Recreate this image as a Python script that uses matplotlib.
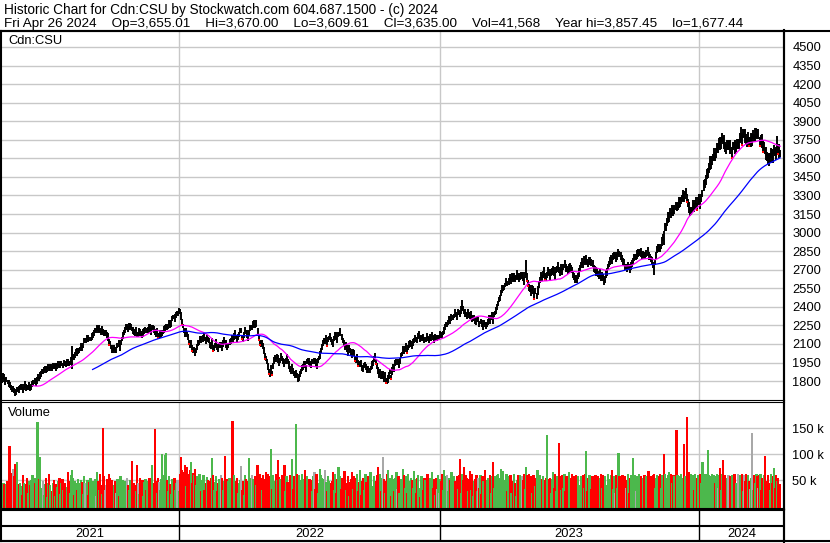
#!/usr/bin/env python
# -*- coding: utf-8 -*-

import numpy as np
import pandas as pd
import matplotlib
matplotlib.use('Agg')
import matplotlib.pyplot as plt
from matplotlib.lines import Line2D

plt.rcParams['font.family'] = ['Liberation Sans', 'DejaVu Sans']

# header values
symbol = 'Cdn:CSU'
last_date = 'Fri Apr 26 2024'
op, hi, lo, cl, last_vol = 3655.01, 3670.00, 3609.61, 3635.00, 41568
year_hi, year_lo = 3857.45, 1677.44

years = ['2021', '2022', '2023', '2024']
year_start = [0, 173, 424, 674]      # bar index where each year begins

# daily bars (one value per trading day)
highs = [
    1845,1860,1830,1865,1855,1825,1835,1810,1810,1790,
    1770,1760,1760,1745,1735,1725,1750,1755,1760,1770,
    1780,1775,1750,1775,1800,1775,1765,1765,1790,1765,
    1775,1800,1805,1825,1820,1830,1855,1835,1875,1880,
    1900,1900,1910,1925,1925,1925,1940,1915,1940,1940,
    1925,1945,1940,1945,1945,1950,1965,1940,1965,1965,
    1950,1970,1965,1960,1980,1975,1965,1965,1995,2080,
    2020,2015,2035,2060,2065,2070,2070,2075,2105,2090,
    2110,2150,2150,2150,2175,2170,2160,2160,2190,2195,
    2210,2230,2230,2250,2245,2250,2230,2210,2245,2220,
    2210,2210,2210,2195,2185,2140,2120,2095,2090,2070,
    2090,2075,2075,2110,2135,2100,2135,2155,2200,2215,
    2235,2260,2260,2245,2270,2270,2265,2240,2240,2220,
    2210,2235,2200,2200,2230,2220,2205,2185,2220,2225,
    2235,2230,2235,2260,2260,2230,2255,2255,2245,2220,
    2200,2225,2185,2185,2210,2210,2205,2215,2245,2250,
    2260,2255,2265,2290,2290,2290,2325,2335,2340,2355,
    2370,2370,2390,2385,2355,2300,2265,2225,2220,2230,
    2200,2180,2135,2115,2135,2090,2065,2075,2060,2070,
    2100,2130,2135,2165,2165,2170,2185,2160,2160,2170,
    2160,2150,2115,2105,2145,2090,2085,2105,2140,2100,
    2080,2110,2115,2115,2105,2130,2155,2135,2130,2100,
    2110,2140,2145,2175,2175,2190,2215,2175,2170,2180,
    2200,2230,2225,2175,2175,2200,2235,2215,2210,2170,
    2210,2250,2255,2255,2285,2290,2265,2295,2230,2170,
    2130,2120,2135,2105,2075,2030,2005,1975,1950,1900,
    1880,1930,1885,1945,1995,2010,1995,2015,2010,1970,
    1990,2030,2005,1985,1975,1990,2015,1975,1960,1920,
    1900,1940,1905,1885,1885,1890,1865,1835,1860,1880,
    1900,1930,1935,1965,1965,1930,1975,1985,1990,1960,
    1950,1980,1985,1985,1975,1950,1985,2005,2040,2070,
    2100,2130,2145,2145,2175,2130,2155,2165,2190,2160,
    2140,2120,2165,2195,2195,2160,2195,2200,2225,2180,
    2150,2130,2095,2115,2095,2060,2095,2065,2060,2030,
    2060,2050,2005,1995,2015,1970,1955,1965,1970,1930,
    1920,1950,1955,1935,1925,1920,1905,1925,1960,1970,
    2000,2030,1975,1945,1915,1880,1895,1855,1880,1880,
    1840,1870,1825,1825,1845,1870,1895,1845,1910,1940,
    1920,1970,1975,1975,1965,1990,2025,2035,2080,2060,
    2080,2110,2065,2095,2125,2130,2125,2095,2140,2150,
    2170,2160,2155,2185,2205,2170,2165,2175,2180,2155,
    2160,2190,2165,2155,2180,2180,2195,2165,2170,2180,
    2170,2170,2175,2175,2205,2200,2185,2205,2240,2260,
    2280,2280,2295,2325,2325,2340,2335,2345,2380,2360,
    2340,2380,2375,2365,2405,2455,2405,2375,2380,2360,
    2350,2380,2355,2345,2365,2330,2325,2335,2320,2300,
    2320,2320,2285,2305,2295,2270,2295,2275,2280,2280,
    2300,2330,2305,2335,2355,2320,2355,2365,2400,2420,
    2450,2480,2495,2535,2575,2580,2575,2595,2630,2610,
    2635,2665,2640,2670,2670,2675,2650,2660,2695,2675,
    2655,2675,2680,2680,2680,2645,2680,2780,2675,2615,
    2585,2575,2540,2580,2570,2525,2550,2510,2565,2605,
    2645,2685,2660,2690,2720,2675,2660,2680,2725,2705,
    2675,2705,2710,2730,2720,2685,2720,2730,2765,2725,
    2705,2745,2710,2750,2780,2745,2730,2710,2745,2755,
    2735,2725,2690,2670,2660,2655,2640,2670,2715,2735,
    2765,2795,2770,2810,2810,2815,2790,2770,2805,2805,
    2785,2775,2740,2730,2720,2715,2690,2670,2705,2665,
    2685,2665,2630,2650,2700,2715,2750,2770,2805,2815,
    2805,2835,2840,2840,2830,2845,2870,2850,2845,2815,
    2795,2785,2750,2750,2750,2765,2750,2720,2765,2775,
    2795,2825,2830,2830,2860,2865,2860,2870,2875,2845,
    2855,2845,2840,2860,2880,2845,2830,2810,2805,2765,
    2740,2790,2840,2890,2910,2905,2890,2910,2965,2990,
    3010,3075,3080,3115,3170,3170,3195,3170,3225,3200,
    3220,3245,3240,3245,3290,3290,3285,3300,3345,3320,
    3340,3360,3315,3275,3250,3210,3205,3210,3265,3240,
    3260,3285,3240,3290,3310,3270,3310,3345,3425,3430,
    3465,3515,3525,3565,3615,3615,3615,3635,3685,3655,
    3685,3725,3725,3765,3775,3775,3805,3775,3785,3735,
    3715,3745,3745,3745,3745,3695,3735,3735,3745,3735,
    3755,3755,3755,3805,3857,3805,3835,3825,3835,3795,
    3775,3815,3775,3775,3805,3800,3825,3795,3845,3845,
    3835,3835,3775,3785,3795,3745,3735,3695,3695,3655,
    3635,3645,3645,3685,3675,3665,3705,3675,3695,3780,
    3705,3715,3670,
]

lows = [
    1800,1815,1785,1820,1795,1770,1795,1775,1750,1745,
    1725,1715,1715,1700,1678,1685,1710,1720,1700,1725,
    1735,1730,1705,1730,1740,1720,1725,1730,1730,1720,
    1730,1755,1760,1780,1760,1775,1815,1800,1815,1835,
    1855,1855,1865,1880,1865,1870,1900,1880,1880,1895,
    1880,1900,1895,1900,1885,1895,1925,1905,1905,1920,
    1905,1925,1920,1915,1920,1920,1925,1930,1935,1900,
    1975,1970,1990,2015,2005,2015,2030,2040,2045,2045,
    2065,2105,2105,2105,2115,2115,2120,2125,2130,2150,
    2165,2185,2185,2205,2185,2195,2190,2175,2185,2175,
    2165,2165,2165,2150,2125,2085,2080,2060,2030,2025,
    2045,2030,2030,2065,2075,2045,2095,2120,2140,2170,
    2190,2215,2215,2200,2210,2215,2225,2205,2180,2175,
    2165,2190,2155,2155,2170,2165,2165,2150,2160,2180,
    2190,2185,2190,2215,2200,2175,2215,2220,2185,2175,
    2155,2180,2140,2140,2150,2155,2165,2180,2185,2205,
    2215,2210,2220,2245,2230,2235,2285,2300,2280,2310,
    2325,2325,2340,2340,2295,2245,2225,2190,2160,2185,
    2155,2135,2090,2070,2075,2035,2025,2040,2000,2025,
    2055,2085,2090,2120,2105,2115,2145,2125,2100,2125,
    2115,2105,2070,2060,2085,2035,2045,2070,2080,2055,
    2035,2065,2070,2070,2045,2075,2115,2100,2070,2055,
    2065,2095,2100,2130,2115,2135,2175,2140,2110,2135,
    2155,2185,2190,2130,2115,2145,2195,2180,2150,2125,
    2165,2205,2210,2210,2225,2235,2225,2240,2170,2125,
    2085,2075,2090,2060,2015,1975,1965,1940,1890,1855,
    1835,1885,1840,1900,1935,1955,1955,1980,1950,1925,
    1945,1985,1960,1940,1915,1935,1975,1940,1900,1875,
    1855,1895,1860,1840,1825,1835,1825,1795,1800,1835,
    1855,1885,1890,1920,1905,1875,1935,1950,1930,1915,
    1905,1935,1940,1940,1915,1895,1945,1970,1980,2025,
    2055,2085,2100,2100,2115,2075,2115,2130,2130,2115,
    2095,2075,2120,2150,2135,2105,2155,2165,2165,2135,
    2105,2085,2050,2070,2035,2005,2055,2030,2000,1985,
    2015,2005,1960,1950,1955,1915,1915,1930,1910,1885,
    1875,1905,1910,1890,1865,1865,1865,1890,1900,1925,
    1955,1985,1930,1900,1855,1825,1855,1820,1820,1820,
    1795,1825,1780,1778,1785,1815,1855,1810,1850,1895,
    1875,1925,1930,1930,1905,1935,1985,2000,2020,2015,
    2035,2065,2020,2050,2065,2075,2085,2060,2080,2105,
    2125,2115,2110,2140,2145,2115,2125,2140,2120,2110,
    2115,2145,2120,2110,2120,2125,2155,2130,2110,2135,
    2125,2125,2130,2130,2145,2145,2145,2170,2180,2215,
    2235,2235,2250,2280,2265,2285,2295,2310,2320,2315,
    2295,2335,2330,2320,2345,2375,2365,2340,2320,2315,
    2305,2335,2310,2300,2305,2275,2285,2300,2260,2255,
    2275,2275,2240,2260,2235,2215,2255,2240,2220,2235,
    2255,2285,2260,2290,2295,2265,2315,2330,2340,2375,
    2405,2435,2450,2490,2515,2525,2535,2560,2570,2565,
    2580,2610,2585,2615,2600,2610,2600,2615,2625,2620,
    2600,2620,2625,2625,2610,2580,2630,2660,2605,2560,
    2530,2520,2485,2525,2500,2460,2500,2465,2495,2550,
    2590,2630,2605,2635,2650,2610,2610,2635,2655,2650,
    2620,2650,2655,2675,2650,2620,2670,2685,2695,2670,
    2650,2690,2655,2695,2710,2680,2680,2665,2675,2700,
    2680,2670,2635,2615,2590,2590,2590,2625,2645,2680,
    2710,2740,2715,2755,2740,2750,2740,2725,2735,2750,
    2730,2720,2685,2675,2650,2650,2640,2625,2635,2610,
    2630,2610,2575,2595,2630,2650,2700,2725,2735,2760,
    2750,2780,2785,2785,2760,2780,2820,2805,2775,2760,
    2740,2730,2695,2695,2680,2700,2700,2675,2695,2720,
    2740,2770,2775,2775,2790,2800,2810,2825,2805,2790,
    2800,2790,2785,2805,2810,2780,2780,2765,2735,2710,
    2660,2740,2785,2835,2840,2840,2840,2865,2895,2930,
    2900,3010,3015,3050,3080,3085,3140,3120,3135,3130,
    3150,3180,3175,3180,3200,3210,3230,3250,3255,3250,
    3270,3300,3245,3210,3160,3130,3145,3160,3175,3170,
    3190,3220,3175,3220,3220,3190,3250,3290,3335,3360,
    3385,3435,3445,3485,3505,3515,3545,3575,3575,3575,
    3605,3645,3645,3685,3665,3675,3735,3715,3675,3655,
    3635,3665,3665,3665,3635,3595,3665,3685,3635,3655,
    3675,3675,3675,3725,3735,3705,3765,3775,3725,3715,
    3695,3735,3695,3695,3695,3700,3755,3735,3735,3765,
    3755,3755,3695,3705,3685,3645,3665,3635,3585,3575,
    3555,3540,3565,3605,3565,3565,3635,3615,3585,3645,
    3625,3605,3610,
]

# daily volume in thousands of shares
volume_k = [
    17,18,20,44,42,40,42,48,46,116,
    64,49,72,58,81,80,85,40,42,45,
    38,22,60,45,18,42,55,25,48,40,
    50,60,28,55,45,48,163,52,95,20,
    35,48,22,42,55,18,45,62,40,25,
    28,45,50,20,42,36,48,55,24,44,
    52,30,45,18,36,66,48,26,60,70,
    55,22,48,45,30,52,44,20,50,46,
    24,58,45,32,50,22,46,55,28,48,
    44,52,20,66,48,30,62,40,24,151,
    58,30,40,52,22,62,55,34,50,26,
    40,48,25,52,38,20,58,42,50,28,
    48,26,55,40,30,50,44,87,22,45,
    40,28,80,45,24,55,38,50,20,46,
    52,30,48,22,55,42,80,28,44,149,
    48,26,55,46,30,52,100,60,35,98,
    103,50,28,58,42,24,52,40,55,30,
    44,50,28,62,95,70,40,65,80,38,
    75,62,40,70,85,45,64,60,72,40,
    58,32,62,50,28,48,60,30,44,56,
    50,25,48,55,92,60,30,46,58,28,
    45,52,22,60,55,30,48,97,52,25,
    48,55,30,46,165,60,28,48,55,26,
    45,50,78,30,48,22,60,52,28,48,
    92,55,26,60,52,30,58,40,80,26,
    62,55,30,60,52,28,66,50,62,35,
    58,110,32,60,48,25,62,50,88,56,
    52,30,60,55,80,28,58,46,30,60,
    55,90,32,58,52,159,62,30,60,50,
    48,62,25,52,70,44,58,22,52,41,
    50,28,58,66,33,62,25,45,72,60,
    55,22,52,70,46,28,58,48,20,45,
    48,66,30,62,26,52,75,58,25,33,
    55,48,68,30,45,58,20,46,52,65,
    32,58,25,55,62,28,46,70,22,48,
    55,30,62,46,18,58,48,66,30,38,
    58,22,48,60,75,34,62,28,55,95,
    52,26,48,62,70,30,55,20,60,52,
    28,55,66,32,58,25,52,48,72,60,
    34,58,25,62,48,20,55,50,35,68,
    52,26,55,60,35,18,58,52,30,55,
    50,25,62,48,55,30,66,35,52,22,
    55,32,60,26,52,48,62,30,70,58,
    34,60,28,55,50,66,35,58,25,48,
    58,32,60,90,25,62,50,75,30,60,
    55,28,52,68,30,62,20,48,52,60,
    28,55,35,60,23,58,48,70,32,50,
    55,30,60,26,58,85,34,58,22,60,
    62,35,55,72,30,68,50,45,62,28,
    58,34,60,25,48,62,45,20,50,60,
    35,60,28,58,50,62,32,75,60,38,
    62,30,58,25,60,55,38,52,70,34,
    60,28,52,58,35,50,55,138,30,52,
    55,25,52,66,35,62,28,58,34,122,
    58,30,60,35,62,28,58,40,66,30,
    55,62,26,58,35,60,23,58,40,35,
    58,30,60,35,62,107,28,55,60,46,
    32,58,25,48,60,30,58,20,55,62,
    35,60,28,58,40,26,62,38,52,60,
    70,32,58,25,60,35,103,58,30,55,
    60,28,58,35,50,62,25,55,60,32,
    93,35,60,28,58,40,62,30,58,25,
    55,60,32,58,35,68,28,58,42,60,
    62,35,55,60,28,58,62,35,60,40,
    100,62,38,55,60,65,30,62,45,60,
    58,32,147,60,35,58,62,28,55,120,
    58,35,171,60,65,32,62,45,60,30,
    62,38,55,60,28,62,45,85,60,35,
    62,40,108,60,35,58,62,30,60,45,
    58,62,35,60,73,30,62,89,45,60,
    35,55,60,28,58,45,60,32,62,45,
    30,62,45,60,35,62,28,60,48,62,
    35,60,48,32,55,140,30,60,45,62,
    58,35,60,62,30,55,60,97,48,35,
    60,45,30,62,45,58,73,35,60,48,
    55,35,42,
]

price_ticks = list(range(1800, 4501, 150))
vol_ticks = [50000, 100000, 150000]
vol_labels = ['50 k', '100 k', '150 k']

W, H = 830, 543
GRID = '#C8C8C8'
UP, DOWN, FLAT = '#4CB84C', '#FF0000', '#A8A8A8'


def px_axes(fig, x0, y0, x1, y1):
    # axes placed by pixel box (top-left origin)
    return fig.add_axes([x0 / W, 1 - y1 / H, (x1 - x0) / W, (y1 - y0) / H])


def fig_line(fig, x0, y0, x1, y1, lw=1.5):
    fig.add_artist(Line2D([x0 / W, x1 / W], [1 - y0 / H, 1 - y1 / H],
                          transform=fig.transFigure, color='k', lw=lw))


def main():

    h = np.array(highs, dtype=float)
    l = np.array(lows, dtype=float)
    v = np.array(volume_k, dtype=float) * 1000
    idx = np.arange(len(h))
    mid = (h + l) / 2

    ma_fast = pd.Series(mid).rolling(32).mean()
    ma_slow = pd.Series(mid).rolling(90).mean()

    chg = np.diff(h + l, prepend=h[0] + l[0] + 1)
    vcol = [UP if c > 0 else (DOWN if c < 0 else FLAT) for c in chg]

    bounds = [s - 0.5 for s in year_start[1:]]
    xlim = (0.7, 755.6)

    fig = plt.figure(figsize=(W / 100, H / 100), dpi=100)
    fig.patch.set_facecolor('white')

    # header
    gap = '    '
    fig.text(4 / W, 1 - 10 / H,
             f'Historic Chart for {symbol} by Stockwatch.com 604.687.1500 - (c) 2024',
             fontsize=9.8, va='center', ha='left')
    fig.text(4 / W, 1 - 23.5 / H,
             gap.join([last_date, f'Op={op:,.2f}', f'Hi={hi:,.2f}', f'Lo={lo:,.2f}',
                       f'Cl={cl:,.2f}', f'Vol={last_vol:,}', f'Year hi={year_hi:,.2f}',
                       f'lo={year_lo:,.2f}']),
             fontsize=9.7, va='center', ha='left')

    # price panel
    ax = px_axes(fig, 1, 31, 784, 400)
    ax.set_xlim(*xlim)
    ax.set_ylim(1647, 4629)
    ax.set_axisbelow(True)
    ax.set_yticks(price_ticks)
    ax.set_yticklabels([str(t) for t in price_ticks])
    ax.yaxis.tick_right()
    ax.set_xticks(bounds)
    ax.tick_params(axis='x', length=0, labelbottom=False)
    ax.tick_params(axis='y', length=0, pad=6, labelsize=9.3)
    ax.grid(True, color=GRID, lw=1.0)

    ax.vlines(idx, l, h, color='k', lw=1.4)
    drop = chg < -75
    ax.plot(idx[drop], l[drop] + 6, 's', color='red', ms=1.6, mew=0)
    ax.plot(idx, ma_fast, color='#FF00FF', lw=0.9)
    ax.plot(idx, ma_slow, color='#0000FF', lw=0.9)
    fig.text(8 / W, 1 - 41 / H, symbol, fontsize=9.3, va='center')

    for s in ['top', 'right', 'left']:
        ax.spines[s].set_linewidth(1.5)
    ax.spines['bottom'].set_linewidth(0.8)

    # volume panel
    vx = px_axes(fig, 1, 402, 784, 509)
    vx.set_xlim(*xlim)
    vx.set_ylim(-5800, 200800)
    vx.set_axisbelow(True)
    vx.bar(idx, v + 5800, bottom=-5800, width=2.2, color=vcol,
           linewidth=0, antialiased=False)
    vx.set_yticks(vol_ticks)
    vx.set_yticklabels(vol_labels)
    vx.yaxis.tick_right()
    vx.set_xticks(bounds)
    vx.tick_params(axis='x', length=0, labelbottom=False)
    vx.tick_params(axis='y', length=0, pad=6, labelsize=9.3)
    vx.grid(True, color=GRID, lw=1.0)
    fig.text(8 / W, 1 - 413 / H, 'Volume', fontsize=9.3, va='center')
    for s in ['bottom', 'right', 'left']:
        vx.spines[s].set_linewidth(1.5)
    vx.spines['top'].set_linewidth(0.8)

    # date band
    dx = px_axes(fig, 1, 510, 784, 541)
    dx.set_xlim(*xlim)
    dx.set_ylim(0, 31)
    dx.set_xticks([])
    dx.set_yticks([])
    dx.axhline(15, color='k', lw=1.5)
    for b in bounds:
        dx.axvline(b, color='k', lw=1.0)
    edges = [xlim[0]] + bounds + [xlim[1]]
    for name, a, b in zip(years, edges[:-1], edges[1:]):
        dx.text((a + b) / 2, 7, name, ha='center', va='center', fontsize=9.3)
    for s in dx.spines.values():
        s.set_linewidth(1.5)

    # outer frame lines
    fig_line(fig, 0, 30.5, W, 30.5)
    fig_line(fig, 784, 30, 784, 542)
    fig_line(fig, 0, 541, W, 541)

    fig.savefig('out.png', dpi=100, facecolor='white')

    return True


if __name__ == "__main__":

    main()
